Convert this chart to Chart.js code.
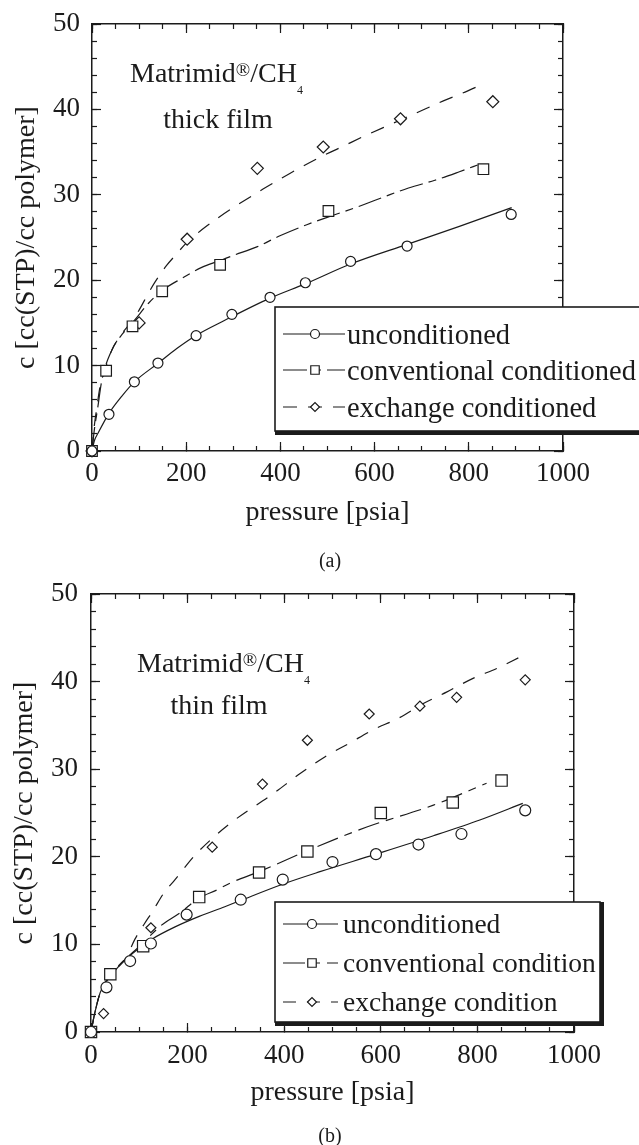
<!DOCTYPE html>
<html lang="en">
<head>
<meta charset="UTF-8" />
<title>Matrimid / CH4 sorption isotherms</title>
<script src="https://cdn.jsdelivr.net/npm/chart.js@4.4.0/dist/chart.umd.min.js"></script>
<style>
  body { margin: 0; background: #fff; width: 639px; height: 1145px; position: relative; overflow: hidden;
         font-family: "Liberation Serif", "Times New Roman", serif; color: #1b1b1b; }
  .panel { position: absolute; left: 0; width: 639px; }
  .note { position: absolute; font-size: 28px; line-height: 28px; white-space: nowrap; }
  .note sup { font-size: 19px; vertical-align: 0; position: relative; top: -6px; }
  .note sub { font-size: 12px; vertical-align: 0; position: relative; top: 12px; }
  .center { width: 200px; text-align: center; }
  .cap { position: absolute; font-size: 20px; line-height: 20px; width: 60px; text-align: center; }
</style>
</head>
<body>
<div class="panel" style="top:0;height:545px"><canvas id="chartA"></canvas></div>
<div class="panel" style="top:570px;height:575px"><canvas id="chartB"></canvas></div>

<div class="note" style="left:130px;top:59px">Matrimid<sup>®</sup>/CH<sub>4</sub></div>
<div class="note center" style="left:118px;top:105px">thick film</div>
<div class="cap" style="left:300px;top:550px">(a)</div>

<div class="note" style="left:137px;top:649px">Matrimid<sup>®</sup>/CH<sub>4</sub></div>
<div class="note center" style="left:119px;top:691px">thin film</div>
<div class="cap" style="left:300px;top:1125px">(b)</div>

<script>
// axis ticks
const pressureTicks = [0, 200, 400, 600, 800, 1000];
const concTicks = [0, 10, 20, 30, 40, 50];

// (a) thick film - measured points
const thickUncP = [0, 36, 90, 140, 221, 297, 378, 453, 549, 669, 890];
const thickUncC = [0, 4.3, 8.1, 10.3, 13.5, 16.0, 18.0, 19.7, 22.2, 24.0, 27.7];
const thickConvP = [0, 30, 86, 149, 272, 502, 831];
const thickConvC = [0, 9.4, 14.6, 18.7, 21.8, 28.1, 33.0];
const thickExchP = [0, 100, 202, 351, 491, 655, 851];
const thickExchC = [0, 15.0, 24.8, 33.1, 35.6, 38.9, 40.9];

// (a) thick film - fitted curves
const thickUncFitP = [0, 5, 13, 36, 63, 90, 141, 180, 220, 282, 378, 454, 549, 669, 780, 891];
const thickUncFitC = [0, 1.2, 2.1, 4.4, 6.4, 8.1, 10.3, 12.0, 13.5, 15.3, 17.9, 19.6, 21.9, 24.2, 26.3, 28.5];
const thickConvFitP = [0, 5, 12, 21, 42, 66, 90, 120, 149, 190, 233, 272, 300, 350, 399, 456, 512, 565, 622, 672, 728, 780, 824];
const thickConvFitC = [0, 2.5, 5.0, 8.3, 11.8, 13.8, 15.3, 17.3, 18.8, 20.2, 21.5, 22.3, 22.9, 23.9, 25.2, 26.5, 27.6, 28.6, 29.8, 30.8, 31.7, 32.7, 33.6];
const thickExchFitP = [0, 5, 10, 17, 24, 42, 63, 86, 100, 120, 134, 158, 180, 201, 233, 265, 300, 364, 420, 484, 530, 583, 636, 689, 746, 799, 827];
const thickExchFitC = [0, 3.0, 5.0, 7.5, 8.9, 11.8, 13.7, 15.3, 16.5, 18.5, 19.8, 21.7, 23.1, 24.4, 25.9, 27.2, 28.5, 30.7, 32.5, 34.4, 35.6, 37.0, 38.3, 39.6, 41.0, 42.2, 42.9];

// (b) thin film - measured points
const thinUncP = [0, 32, 81, 124, 198, 310, 397, 500, 590, 678, 767, 899];
const thinUncC = [0, 5.1, 8.1, 10.1, 13.4, 15.1, 17.4, 19.4, 20.3, 21.4, 22.6, 25.3];
const thinConvP = [0, 40, 108, 224, 348, 448, 600, 749, 850];
const thinConvC = [0, 6.6, 9.8, 15.4, 18.2, 20.6, 25.0, 26.2, 28.7];
const thinExchP = [0, 26, 124, 251, 355, 448, 576, 681, 757, 899];
const thinExchC = [0, 2.1, 11.9, 21.1, 28.3, 33.3, 36.3, 37.2, 38.2, 40.2];

// (b) thin film - fitted curves
const thinUncFitP = [0, 8, 19, 32, 56, 72, 100, 126, 174, 224, 277, 309, 398, 474, 590, 709, 805, 894];
const thinUncFitC = [0, 2.2, 4.5, 5.8, 7.4, 8.3, 9.6, 10.6, 12.0, 13.2, 14.3, 15.0, 16.9, 18.3, 20.3, 22.4, 24.2, 26.1];
const thinConvFitP = [0, 8, 19, 32, 56, 72, 91, 108, 146, 184, 224, 260, 288, 348, 448, 571, 709, 819];
const thinConvFitC = [0, 2.2, 4.5, 5.9, 7.5, 8.4, 9.3, 10.2, 12.2, 13.6, 15.3, 16.2, 17.0, 18.3, 20.7, 23.4, 25.9, 28.4];
const thinExchFitP = [0, 8, 19, 32, 56, 72, 91, 110, 129, 150, 174, 219, 288, 377, 433, 484, 536, 584, 636, 688, 736, 792, 840, 888];
const thinExchFitC = [0, 2.2, 4.5, 5.8, 7.4, 8.4, 10.6, 12.3, 13.9, 15.8, 17.4, 20.4, 23.8, 27.2, 29.5, 31.4, 33.0, 34.5, 35.8, 37.5, 38.8, 40.4, 41.5, 42.8];

const INK = '#1b1b1b';
const SERIF = '"Liberation Serif", "Times New Roman", serif';
Chart.defaults.font.family = SERIF;
Chart.defaults.color = INK;

const pts = (p, c) => p.map((v, i) => ({ x: v, y: c[i] }));

function markerSet(label, p, c, style, r) {
  return {
    label, data: pts(p, c), showLine: false, clip: false,
    pointStyle: style, pointRadius: r, pointHoverRadius: r,
    pointBorderWidth: 1.2, pointBorderColor: INK, pointBackgroundColor: '#fff'
  };
}

function fitSet(p, c, dash) {
  return {
    data: pts(p, c), showLine: true, pointRadius: 0, pointHoverRadius: 0,
    borderColor: INK, borderWidth: 1.2, borderDash: dash, fill: false,
    cubicInterpolationMode: 'monotone'
  };
}

// little marker painter for the legend
function paintMarker(ctx, style, x, y, r) {
  ctx.beginPath();
  if (style === 'circle') {
    ctx.arc(x, y, r, 0, Math.PI * 2);
  } else if (style === 'rect') {
    const s = r * Math.SQRT1_2;
    ctx.rect(x - s, y - s, 2 * s, 2 * s);
  } else {
    ctx.moveTo(x - r, y); ctx.lineTo(x, y - r); ctx.lineTo(x + r, y); ctx.lineTo(x, y + r);
    ctx.closePath();
  }
  ctx.fillStyle = '#fff';
  ctx.fill();
  ctx.stroke();
}

const boxLegend = {
  id: 'boxLegend',
  afterDraw(chart, args, o) {
    const ctx = chart.ctx;
    const ds = chart.data.datasets;
    const w = o.right - o.left, h = o.bottom - o.top;
    ctx.save();
    ctx.fillStyle = '#fff';
    ctx.fillRect(o.left, o.top, w, h);
    ctx.fillStyle = INK;
    ctx.fillRect(o.left, o.bottom, w + o.shadow, o.shadow);
    ctx.fillRect(o.right, o.top, o.shadow, h + o.shadow);
    ctx.strokeStyle = INK;
    ctx.lineWidth = 1.6;
    ctx.strokeRect(o.left, o.top, w, h);
    o.rows.forEach((y, i) => {
      const mark = ds[i], fit = ds[i + 3];
      ctx.lineWidth = 1.2;
      ctx.setLineDash(fit.borderDash || []);
      ctx.beginPath();
      ctx.moveTo(o.lineX0, y);
      ctx.lineTo(o.lineX1, y);
      ctx.stroke();
      ctx.setLineDash([]);
      paintMarker(ctx, mark.pointStyle, o.markX, y, o.markR[i]);
      ctx.fillStyle = INK;
      ctx.font = o.fontSize + 'px ' + SERIF;
      ctx.textBaseline = 'alphabetic';
      ctx.textAlign = 'left';
      ctx.fillText(mark.label, o.textX, y + o.baseOff);
    });
    ctx.restore();
  }
};

function scalesFor(g) {
  const tickGrid = len => ({ drawOnChartArea: false, drawTicks: true, tickLength: -len, tickColor: INK, tickWidth: 1.2 });
  const flat = s => { if (s.isHorizontal()) s.height = 0; else s.width = 0; };
  const aux = (axis, position, weight, step, len, border) => ({
    type: 'linear', axis, position, weight,
    min: 0, max: axis === 'x' ? 1000 : 50,
    grid: tickGrid(len),
    border: { display: border, color: INK, width: 1.5 },
    ticks: { display: false, stepSize: step },
    afterFit: flat
  });
  return {
    x: {
      type: 'linear', axis: 'x', position: 'bottom', weight: 1, min: 0, max: 1000,
      afterBuildTicks: s => { s.ticks = pressureTicks.map(v => ({ value: v })); },
      grid: tickGrid(9),
      border: { display: true, color: INK, width: 1.5 },
      ticks: { color: INK, font: { size: 27, family: SERIF }, padding: g.xPad, autoSkip: false, maxRotation: 0, callback: v => String(v) },
      title: { display: true, text: 'pressure [psia]', color: INK, font: { size: 28, family: SERIF }, padding: { top: 0, bottom: g.xTitlePad } },
      afterFit: s => { s.height = g.xAxisH; s.paddingLeft = 0; s.paddingRight = 0; }
    },
    xMinor: aux('x', 'bottom', 0, 50, 5, false),
    xTop: aux('x', 'top', 1, 200, 9, true),
    xTopMinor: aux('x', 'top', 0, 50, 5, false),
    y: {
      type: 'linear', axis: 'y', position: 'left', weight: 1, min: 0, max: 50,
      afterBuildTicks: s => { s.ticks = concTicks.map(v => ({ value: v })); },
      grid: tickGrid(9),
      border: { display: true, color: INK, width: 1.5 },
      ticks: { color: INK, font: { size: 27, family: SERIF }, padding: g.yPad, autoSkip: false, callback: v => String(v) },
      title: { display: true, text: 'c [cc(STP)/cc polymer]', color: INK, font: { size: 28, family: SERIF }, padding: { top: g.yTitlePad, bottom: 0 } },
      afterFit: s => { s.width = g.left; s.paddingTop = 0; s.paddingBottom = 0; }
    },
    yMinor: aux('y', 'left', 0, 2, 5, false),
    yRight: aux('y', 'right', 1, 10, 9, true),
    yRightMinor: aux('y', 'right', 0, 2, 5, false)
  };
}

function makeChart(id, g, datasets, legend) {
  return new Chart(document.getElementById(id), {
    type: 'scatter',
    data: { datasets },
    options: {
      responsive: true,
      maintainAspectRatio: false,
      animation: false,
      events: [],
      layout: { padding: { left: 0, top: g.top, right: 639 - g.right, bottom: g.height - g.bottom - g.xAxisH } },
      scales: scalesFor(g),
      plugins: { legend: { display: false }, tooltip: { enabled: false }, boxLegend: legend }
    },
    plugins: [boxLegend]
  });
}

makeChart('chartA',
  { height: 545, left: 92, top: 24, right: 563, bottom: 451, xAxisH: 80, xPad: 16, xTitlePad: 2, yPad: 21, yTitlePad: 10 },
  [
    markerSet('unconditioned', thickUncP, thickUncC, 'circle', 5),
    markerSet('conventional conditioned', thickConvP, thickConvC, 'rect', 7.5),
    markerSet('exchange conditioned', thickExchP, thickExchC, 'rectRot', 6),
    fitSet(thickUncFitP, thickUncFitC, []),
    fitSet(thickConvFitP, thickConvFitC, [24, 6, 8, 6]),
    fitSet(thickExchFitP, thickExchFitC, [14, 11])
  ],
  { left: 275, top: 307, right: 660, bottom: 431, shadow: 4, rows: [334, 370, 407], baseOff: 10, fontSize: 28.5,
    lineX0: 283, lineX1: 345, markX: 315, markR: [4.5, 6, 4.5], textX: 347 }
);

makeChart('chartB',
  { height: 575, left: 91, top: 24, right: 574, bottom: 462, xAxisH: 90, xPad: 17, xTitlePad: 13, yPad: 22, yTitlePad: 8 },
  [
    markerSet('unconditioned', thinUncP, thinUncC, 'circle', 5.5),
    markerSet('conventional condition', thinConvP, thinConvC, 'rect', 8),
    markerSet('exchange condition', thinExchP, thinExchC, 'rectRot', 5),
    fitSet(thinUncFitP, thinUncFitC, []),
    fitSet(thinConvFitP, thinConvFitC, [22, 7, 8, 7]),
    fitSet(thinExchFitP, thinExchFitC, [13, 11])
  ],
  { left: 275, top: 332, right: 600, bottom: 452, shadow: 4, rows: [354, 393, 432], baseOff: 9, fontSize: 27.5,
    lineX0: 283, lineX1: 338, markX: 312, markR: [4.5, 6, 4.5], textX: 343 }
);
</script>
</body>
</html>
